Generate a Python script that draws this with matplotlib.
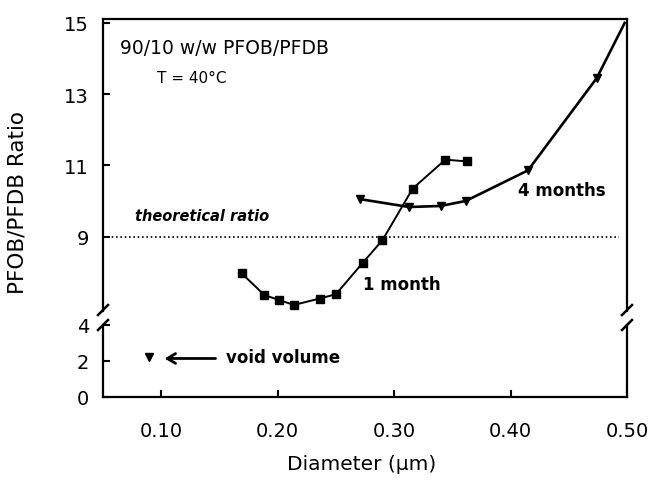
import numpy as np
import matplotlib.pyplot as plt

plt.rcParams['font.family'] = 'DejaVu Sans'

# 1 month (squares)
diam_1mo = [0.169, 0.1885, 0.201, 0.214, 0.236, 0.250, 0.273, 0.290, 0.316, 0.344, 0.363]
ratio_1mo = [7.97, 7.36, 7.22, 7.08, 7.26, 7.38, 8.26, 8.90, 10.35, 11.16, 11.11]

# 4 months (down triangles), last point sits at the plot corner
diam_4mo = [0.271, 0.313, 0.340, 0.3615, 0.415, 0.474, 0.498]
ratio_4mo = [10.05, 9.83, 9.86, 10.00, 10.86, 13.45, 15.0]

# void volume point
void_diam = [0.0898]
void_ratio = [2.2]

theory = 9.0

upper_ticks = [9, 11, 13, 15]
lower_ticks = [0, 2, 4]
x_ticks = [0.10, 0.20, 0.30, 0.40, 0.50]

fig = plt.figure(figsize=(6.51, 5.02), dpi=100)
left, width = 103 / 651, 524 / 651
ax_top = fig.add_axes([left, 1 - 312 / 502, width, (312 - 20) / 502])
ax_bot = fig.add_axes([left, 1 - 398 / 502, width, (398 - 326) / 502])

for ax in (ax_top, ax_bot):
    ax.set_xlim(0.05, 0.50)
    for s in ax.spines.values():
        s.set_linewidth(1.6)
    ax.tick_params(direction='in', length=5, width=1.5, labelsize=14)

ax_top.set_ylim(6.91, 15.11)
ax_bot.set_ylim(0, 4.0)
ax_top.spines['bottom'].set_visible(False)
ax_bot.spines['top'].set_visible(False)

ax_top.set_yticks(upper_ticks)
ax_top.set_xticks([])
ax_top.tick_params(axis='y', pad=10)
ax_bot.set_yticks(lower_ticks)
ax_bot.set_xticks(x_ticks)
ax_bot.set_xticklabels([f"{v:.2f}" for v in x_ticks])
ax_bot.tick_params(axis='x', pad=17)
ax_bot.tick_params(axis='y', pad=10)

# data
ax_top.axhline(theory, color='black', lw=1.2, ls=(0, (1, 1.6)), xmax=0.985)
ax_top.plot(diam_1mo, ratio_1mo, color='black', lw=1.4, marker='s', ms=5.5)
ax_top.plot(diam_4mo, ratio_4mo, color='black', lw=1.9, clip_on=False)
ax_top.plot(diam_4mo[:-1], ratio_4mo[:-1], ls='none', color='black', marker='v', ms=6)
ax_bot.plot(void_diam, void_ratio, ls='none', color='black', marker='v', ms=6)

# annotations
ax_top.text(0.0646, 14.32, "90/10 w/w PFOB/PFDB", fontsize=13.5, va='center')
ax_top.text(0.0964, 13.48, "T = 40°C", fontsize=11, va='center')
ax_top.text(0.0775, 9.58, "theoretical ratio", fontsize=10.5, fontweight='bold',
            style='italic', va='center')
ax_top.text(0.2736, 7.67, "1 month", fontsize=12, fontweight='bold', va='center')
ax_top.text(0.4067, 10.31, "4 months", fontsize=12, fontweight='bold', va='center')
ax_bot.annotate("", xy=(0.1004, 2.14), xytext=(0.149, 2.14),
                arrowprops=dict(arrowstyle='->,head_length=0.6,head_width=0.35',
                                lw=2, color='black'))
ax_bot.text(0.156, 2.2, "void volume", fontsize=12, fontweight='bold', va='center')

# break marks on the spines
for xp in (103, 627):
    for yp in (311, 326):
        fig.add_artist(plt.Line2D([(xp - 5) / 651, (xp + 5) / 651],
                                  [1 - (yp + 5) / 502, 1 - (yp - 5) / 502],
                                  color='black', lw=1.8))

fig.text(18 / 651, 1 - 203 / 502, "PFOB/PFDB Ratio", rotation=90,
         fontsize=15.5, ha='center', va='center')
fig.text(362 / 651, 1 - 465 / 502, "Diameter (μm)", fontsize=14.5,
         ha='center', va='center')

fig.savefig("out.png", dpi=100)
